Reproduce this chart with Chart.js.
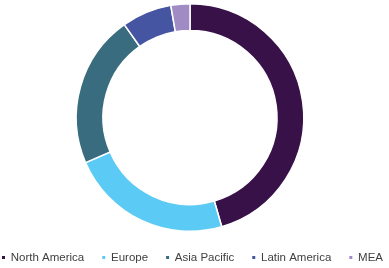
<!DOCTYPE html>
<html>
<head>
<meta charset="utf-8">
<script src="https://cdn.jsdelivr.net/npm/chart.js@4/dist/chart.umd.min.js"></script>
<style>
html,body{margin:0;padding:0;background:#fff;}
#wrap{width:389px;height:268px;position:relative;}
</style>
</head>
<body>
<div id="wrap"><canvas id="c" width="389" height="268"></canvas></div>
<script>
const categories = ["North America", "Europe", "Asia Pacific", "Latin America", "MEA"];
const shares = [45.5, 23.0, 21.7, 7.1, 2.7];
const colors = ["#371147", "#5BCBF5", "#386C7E", "#4655A2", "#A08BC5"];

// trims the plot area (right/bottom) after layout so the ring sits like the reference
const areaTrim = {
  id: 'areaTrim',
  afterLayout(chart) {
    const a = chart.chartArea;
    a.right -= 9;
    a.bottom -= 1.75;
    a.width = a.right - a.left;
    a.height = a.bottom - a.top;
  }
};

new Chart(document.getElementById('c'), {
  type: 'doughnut',
  data: {
    labels: categories,
    datasets: [{
      data: shares,
      backgroundColor: colors,
      borderColor: '#ffffff',
      borderWidth: 1.5,
      hoverOffset: 0
    }]
  },
  options: {
    responsive: false,
    animation: false,
    cutout: '76.5%',
    layout: { padding: { top: 3, right: -13.5, left: -17.5, bottom: -5.25 } },
    plugins: {
      tooltip: { enabled: false },
      legend: {
        position: 'bottom',
        labels: {
          boxWidth: 3,
          boxHeight: 3,
          padding: 18,
          color: '#404040',
          font: { family: '"Liberation Sans", Arial, sans-serif', size: 11.5 },
          generateLabels: function(chart) {
            const items = Chart.overrides.doughnut.plugins.legend.labels.generateLabels(chart);
            return items.map(function(it) {
              it.lineWidth = 0;
              it.strokeStyle = it.fillStyle;
              return it;
            });
          }
        }
      }
    }
  },
  plugins: [areaTrim]
});
</script>
</body>
</html>
